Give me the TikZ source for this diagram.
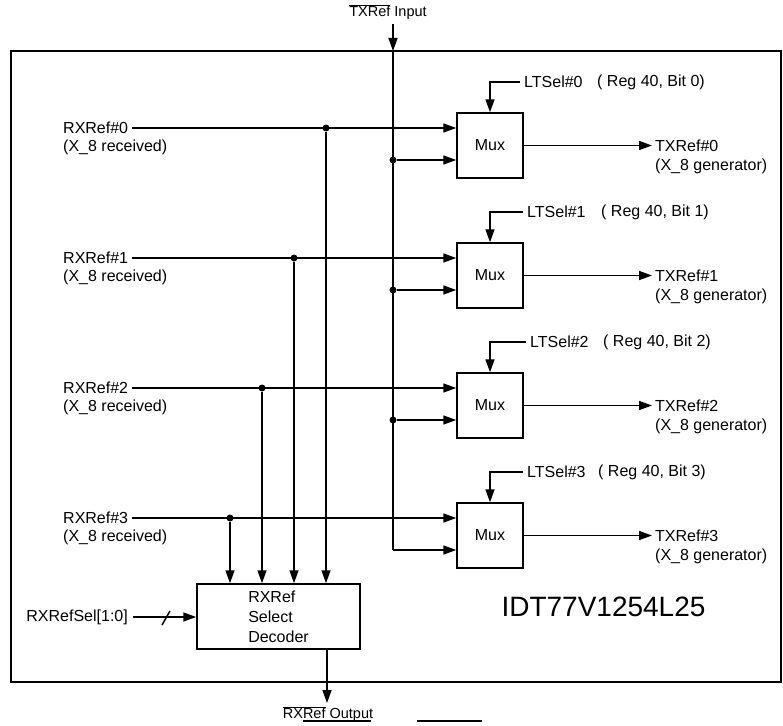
\documentclass[tikz,border=0pt]{standalone}
\usepackage{fontspec}
\setmainfont{Liberation Sans}
\usetikzlibrary{arrows.meta}
\begin{document}
\begin{tikzpicture}[x=1pt,y=-1pt,
  every node/.style={font=\fontsize{16}{20}\selectfont, inner sep=0pt},
  ln/.style={line width=1.5pt},
  arr/.style={ln, -{Triangle[length=13pt,width=9pt]}},
  muxbox/.style={draw, line width=1.5pt, minimum width=66pt, minimum height=65pt, inner sep=0pt},
  decbox/.style={draw, line width=1.5pt, minimum width=163pt, minimum height=65pt, align=left},
  jdot/.style={circle, fill, inner sep=0pt, minimum size=7pt},
  lbl/.style={anchor=west}]
\useasboundingbox (0,0) rectangle (783,725);
% frame
\draw[line width=2pt] (11,51) rectangle (781,682);
% decoder
\node[decbox] (dec) at (278.5,616.5) {RXRef\\Select\\Decoder};
\node[anchor=east, inner xsep=5pt] (sel) at (133,617) {RXRefSel[1:0]};
\draw[arr] (sel.east) -- (sel.east -| dec.west);
\draw[ln] (162,625) -- (170,611);
% title
\node[font=\fontsize{28}{32}\selectfont] (idt) at (603.5,607) {IDT77V1254L25};
% top input
\node[font=\fontsize{14.5}{16}\selectfont] (tint) at (388,12) {$\overline{\hbox{TXRef}}$ Input};
\coordinate (tin) at (393,24);
\coordinate (ttop) at (393,51);
\draw[arr] (tin) -- (ttop);
% muxes
\foreach \i/\lx/\rx in {0/524/597,1/527/601,2/530/603,3/527/598}{
  \pgfmathsetmacro\yt{113+130*\i}
  \node[muxbox] (mux\i) at (490,\yt+32.5) {Mux};
  % RX inputs
  \node[lbl, inner xsep=4pt] (rx\i) at (59,\yt+15) {RXRef\#\i};
  \node[lbl] (rxr\i) at (63,\yt+34) {(X\_8 received)};
  \node[jdot] (d\i) at (326-32*\i,\yt+15) {};
  \draw[arr] (rx\i.east) -- (rx\i.east -| mux\i.west);
  \draw[arr] (d\i) -- (d\i |- dec.north);
  % TX reference branch
  \ifnum\i<3
    \node[jdot] (j\i) at (393,\yt+47) {};
  \else
    \coordinate (j\i) at (393,\yt+47);
  \fi
  \draw[arr] (j\i) -- (j\i -| mux\i.west);
  % LTSel
  \node[lbl, inner xsep=4pt] (lt\i) at (\lx-4,\yt-31) {LTSel\#\i};
  \node[lbl] (reg\i) at (\rx,\yt-31) {( Reg 40, Bit \i)};
  \draw[arr] (lt\i.west) -| (mux\i.north);
  % outputs
  \node[lbl, inner xsep=3pt] (tx\i) at (652,\yt+33) {TXRef\#\i};
  \node[lbl] (txg\i) at (655,\yt+53) {(X\_8 generator)};
  \draw[arr] (mux\i.east) -- (mux\i.east -| tx\i.west);
}
\draw[ln] (ttop) -- (j3);
% bottom output
\coordinate (rxo) at (327,703);
\draw[arr] (dec.south -| rxo) -- (rxo);
\node[font=\fontsize{14.5}{16}\selectfont] (rxot) at (328,714) {$\overline{\hbox{RXRef}}$ Output};
\draw[ln] (303,721) -- (371,721);
\draw[ln] (417,721) -- (482,721);
\end{tikzpicture}
\end{document}
